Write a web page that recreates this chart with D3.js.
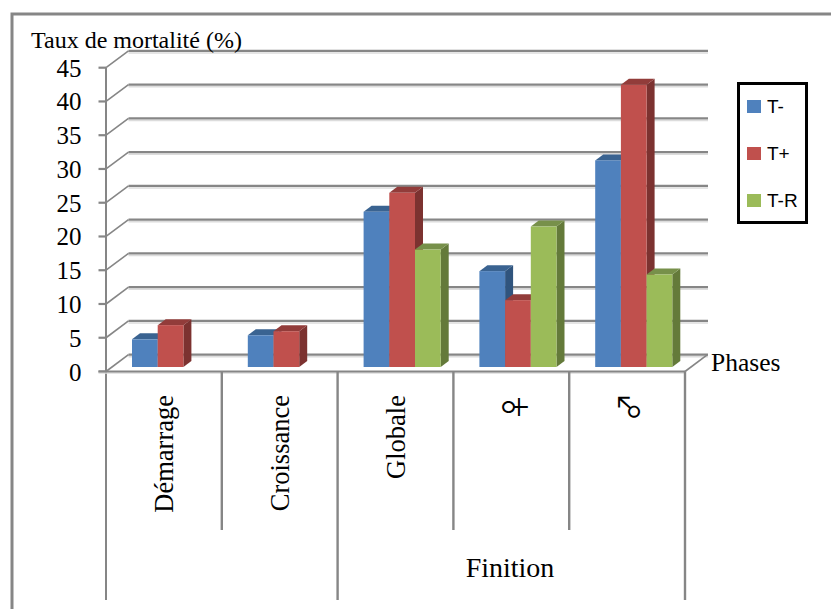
<!DOCTYPE html>
<html>
<head>
<meta charset="utf-8">
<script src="https://cdn.jsdelivr.net/npm/d3@7/dist/d3.min.js"></script>
<style>
html,body{margin:0;padding:0;background:#fff;}
svg{display:block;}
text{fill:#000;}
</style>
</head>
<body>
<svg id="chart" width="831" height="609"></svg>
<script>
const categories = ["Démarrage", "Croissance", "Globale", "♀", "♂"];
const seriesNames = ["T-", "T+", "T-R"];
const valuesTMinus = [4.1, 4.7, 23, 14.2, 30.6];
const valuesTPlus = [6.2, 5.3, 25.8, 9.9, 41.8];
const valuesTR = [null, null, 17.4, 20.8, 13.7];
const tickValues = [0, 5, 10, 15, 20, 25, 30, 35, 40, 45];
const seriesColors = ["#4f81bd", "#c0504d", "#9bbb59"];
const topColors = ["#3a6391", "#923c3a", "#77904a"];
const sideColors = ["#30547d", "#7c3230", "#647a3a"];
const groupLabel = "Finition";
const yTitle = "Taux de mortalité (%)";
const xTitle = "Phases";

const svg = d3.select("#chart");
const serif = "'Liberation Serif', serif";
const sans = "'Liberation Sans', sans-serif";
const gray = "#868686";

const x0 = d3.scaleBand().domain(categories).range([106, 685]);
const y = d3.scaleLinear().domain([0, 45]).range([371.5, 67.7]);
const yBar = d3.scaleLinear().domain([0, 45]).range([367, 63.2]);
const depthX = 22.5, depthY = 16.8;
const barDX = 8, barDY = 6;
const barW = 25.7, barStart = 26;

// frame
svg.append("path").attr("d", "M12,609V14H831").attr("fill", "none").attr("stroke", gray).attr("stroke-width", 3);

// gridlines on back wall and left wall diagonals
const grid = svg.append("g");
tickValues.forEach(t => {
  const yf = y(t), yb = yf - depthY;
  grid.append("line").attr("x1", 106 + depthX).attr("x2", 708).attr("y1", yb + 2).attr("y2", yb + 2)
    .attr("stroke", "#dcdcdc").attr("stroke-width", 1.5);
  grid.append("line").attr("x1", 106 + depthX).attr("x2", 708).attr("y1", yb).attr("y2", yb)
    .attr("stroke", gray).attr("stroke-width", 2.2);
  grid.append("line").attr("x1", 106).attr("x2", 106 + depthX).attr("y1", yf).attr("y2", yb)
    .attr("stroke", gray).attr("stroke-width", 1.6);
  grid.append("line").attr("x1", 98.5).attr("x2", 106).attr("y1", yf).attr("y2", yf)
    .attr("stroke", gray).attr("stroke-width", 2.2);
  svg.append("text").attr("x", 81.5).attr("y", yf + 9).attr("text-anchor", "end")
    .attr("font-family", serif).attr("font-size", 25).text(t);
});

// floor and axes
svg.append("line").attr("x1", 106).attr("x2", 106).attr("y1", y(45)).attr("y2", 600).attr("stroke", gray).attr("stroke-width", 2);
svg.append("line").attr("x1", 98.5).attr("x2", 685).attr("y1", y(0) + 1.5).attr("y2", y(0) + 1.5).attr("stroke", "#dcdcdc").attr("stroke-width", 1.5);
svg.append("line").attr("x1", 98.5).attr("x2", 685).attr("y1", y(0)).attr("y2", y(0)).attr("stroke", gray).attr("stroke-width", 2.2);
svg.append("line").attr("x1", 685).attr("x2", 685 + depthX).attr("y1", y(0)).attr("y2", y(0) - depthY).attr("stroke", gray).attr("stroke-width", 1.6);

// separators
const seps = [categories[1], categories[3], categories[4]];
seps.forEach(c => svg.append("line").attr("x1", x0(c)).attr("x2", x0(c)).attr("y1", y(0)).attr("y2", 530).attr("stroke", gray).attr("stroke-width", 2.4));
[categories[2]].forEach(c => svg.append("line").attr("x1", x0(c)).attr("x2", x0(c)).attr("y1", y(0)).attr("y2", 600).attr("stroke", gray).attr("stroke-width", 2.4));
svg.append("line").attr("x1", 685).attr("x2", 685).attr("y1", y(0)).attr("y2", 600).attr("stroke", gray).attr("stroke-width", 2.4);

// bars
const series = [valuesTMinus, valuesTPlus, valuesTR];
const bars = svg.append("g");
categories.forEach((c, i) => {
  series.forEach((vals, s) => {
    const v = vals[i];
    if (v == null) return;
    const xl = x0(c) + barStart + s * barW, xr = xl + barW;
    const yt = yBar(v), yb = yBar(0);
    bars.append("polygon").attr("fill", sideColors[s])
      .attr("points", [[xr, yt], [xr + barDX, yt - barDY], [xr + barDX, yb - barDY], [xr, yb]].join(" "));
    bars.append("polygon").attr("fill", topColors[s])
      .attr("points", [[xl, yt], [xl + barDX, yt - barDY], [xr + barDX, yt - barDY], [xr, yt]].join(" "));
    bars.append("rect").attr("x", xl).attr("y", yt).attr("width", barW).attr("height", yb - yt).attr("fill", seriesColors[s]);
  });
});

// category labels
categories.forEach((c, i) => {
  const cx = x0(c) + x0.bandwidth() / 2;
  if (i < 3) {
    svg.append("text")
      .attr("transform", `translate(${cx + 9.5},395) rotate(-90)`)
      .attr("text-anchor", "end")
      .attr("font-family", serif)
      .attr("font-size", 26.5)
      .text(c);
  } else {
    svg.append("text")
      .attr("transform", `translate(${cx + (i === 3 ? 3 : 1)},407) rotate(-90)`)
      .attr("text-anchor", "middle")
      .attr("dominant-baseline", "central")
      .attr("font-family", "'Noto Sans CJK JP', sans-serif")
      .attr("font-size", 28)
      .text(c);
  }
});

svg.append("text").attr("x", 510).attr("y", 577).attr("text-anchor", "middle").attr("font-family", serif).attr("font-size", 28).text(groupLabel);
svg.append("text").attr("x", 711).attr("y", 371).attr("font-family", serif).attr("font-size", 25.5).text(xTitle);
svg.append("text").attr("x", 31).attr("y", 48).attr("font-family", serif).attr("font-size", 24).text(yTitle);

// legend
svg.append("rect").attr("x", 738.5).attr("y", 83.5).attr("width", 68).attr("height", 139)
  .attr("fill", "#fff").attr("stroke", "#000").attr("stroke-width", 3);
const yLegend = d3.scalePoint().domain(seriesNames).range([106.5, 200.5]);
seriesNames.forEach((n, s) => {
  svg.append("rect").attr("x", 747).attr("y", yLegend(n) - 6.5).attr("width", 14).attr("height", 13).attr("fill", seriesColors[s]);
  svg.append("text").attr("x", 767).attr("y", yLegend(n) + 6.5).attr("font-family", sans).attr("font-size", 19).text(n);
});
</script>
</body>
</html>
